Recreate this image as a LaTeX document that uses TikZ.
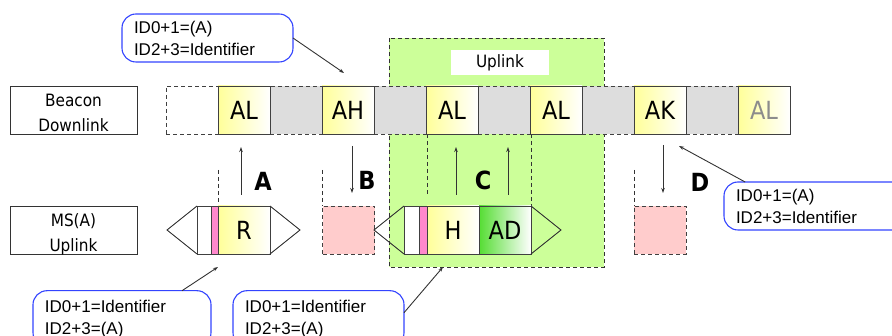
\documentclass[tikz,border=0pt]{standalone}
\usepackage{fontspec}
\setmainfont{Liberation Sans}
\newfontfamily\comic{DejaVu Sans Condensed}
\usetikzlibrary{arrows.meta}

\definecolor{slotyel}{HTML}{FFFF99}
\definecolor{slotgray}{HTML}{DDDDDD}
\definecolor{upgreen}{HTML}{CCFF99}
\definecolor{adgreen}{HTML}{55DD33}
\definecolor{msgpink}{HTML}{FFCCCC}
\definecolor{hdrpink}{HTML}{FF88CC}
\definecolor{calloutblue}{HTML}{3344FF}

\begin{document}
\begin{tikzpicture}[x=1pt, y=-1pt, line width=0.9pt,
  every node/.style={inner sep=0pt, outer sep=0pt},
  dashln/.style={dash pattern=on 4pt off 3pt},
  namebox/.style={draw=black!80, fill=white, minimum width=127pt, minimum height=48pt,
    align=center, text height=46pt, text depth=2pt,
    font=\comic\fontsize{17}{25}\selectfont},
  ybox/.style={draw=black!75, left color=slotyel, right color=white,
    minimum width=52pt, minimum height=48pt, font=\comic\fontsize{25}{25}\selectfont},
  gbox/.style={draw=black!75, dashln, fill=slotgray, minimum width=52pt, minimum height=48pt},
  adbox/.style={ybox, left color=adgreen, right color=white},
  hdr/.style={draw=black!75, fill=#1, minimum height=48pt},
  msgbox/.style={draw=black!75, dashln, fill=msgpink, minimum width=52pt, minimum height=48pt},
  letter/.style={font=\comic\bfseries\fontsize{25}{25}\selectfont},
  callout/.style={draw=calloutblue, line width=1.1pt, fill=white, rounded corners=14pt,
    align=left, inner xsep=12pt, font=\fontsize{17}{22}\selectfont},
  tip/.style={-{Stealth[length=5pt,width=3.5pt]}, black!80},
  wing/.style={draw=black!80},
]
\useasboundingbox (0,0) rectangle (892,336);
\clip (0,0) rectangle (892,336);

% ---- uplink window ----
\draw[dashln, black!80, fill=upgreen] (389,38) rectangle (604,267);
\node[fill=white, minimum width=98pt, minimum height=25pt,
  font=\comic\fontsize{17}{17}\selectfont] (upl) at (500,62.5) {Uplink};
\foreach \x/\ya/\yb in {218/170/206, 322.7/170/206, 427/134/195, 531/134/206, 634.3/170/206}
  \draw[dashln, black!80] (\x,\ya) -- (\x,\yb);

% ---- row labels ----
\node[namebox] (bdl) at (73.5,110) {Beacon\\Downlink};
\node[namebox] (msa) at (73.5,230) {MS(A)\\Uplink};

% ---- beacon downlink slots ----
\node[gbox, fill=white] (s0) at (192,110) {};
\foreach \i in {2,4,6,8,10}
  \node[gbox] (s\i) at ({192+52*\i},110) {};
\foreach \i/\lab in {1/AL, 3/AH, 5/AL, 7/AL, 9/AK}
  \node[ybox] (s\i) at ({192+52*\i},110) {\lab};
\node[ybox, text=black!45] (s11) at (764,110) {AL};

% ---- MS(A) uplink packets ----
\node[hdr=white, minimum width=14pt] (rw) at (204,230) {};
\node[hdr=hdrpink, minimum width=7pt] (rp) at (214.5,230) {};
\node[ybox] (rr) at (244,230) {R};
\draw[wing] (rw.north west) -- ++(-30,24) -- (rw.south west);
\draw[wing] (rr.north east) -- ++(30,24) -- (rr.south east);

\node[msgbox] (mB) at (348.5,230) {};

\node[hdr=white, minimum width=15pt] (hw) at (411.5,230) {};
\node[hdr=hdrpink, minimum width=8pt] (hp) at (423,230) {};
\node[ybox] (hh) at (453,230) {H};
\node[adbox] (had) at (505,230) {AD};
\draw[wing] (hw.north west) -- ++(-30,24) -- (hw.south west);
\draw[wing] (had.north east) -- ++(30,24) -- (had.south east);

\node[msgbox] (mD) at (660,230) {};

% ---- exchanges A to D ----
\foreach \n/\x/\ya/\yb in {a/241/195/147, b/352/146/193, c1/456/195/147,
                           c2/508/195/147, d/663/145/193} {
  \coordinate (\n0) at (\x,\ya);
  \coordinate (\n1) at (\x,\yb);
  \draw[tip] (\n0) -- (\n1);
}
\node[letter] (la) at (263,181) {A};
\node[letter] (lb) at (367,180) {B};
\node[letter] (lc) at (483,180) {C};
\node[letter] (ld) at (700,182) {D};

% ---- identifier callouts ----
\node[callout, text width=147pt, minimum height=48pt]
  (co1) at (207.5,38) {ID0+1=(A)\\ID2+3=Identifier};
\node[callout, text width=166pt, minimum height=48pt]
  (co2) at (819,206) {ID0+1=(A)\\ID2+3=Identifier};
\node[callout, text width=154pt, minimum height=56pt]
  (co3) at (122,318.7) {ID0+1=Identifier\\ID2+3=(A)};
\node[callout, text width=147pt, minimum height=56pt]
  (co4) at (318.5,318.7) {ID0+1=Identifier\\ID2+3=(A)};

\coordinate (t1) at (344,73);
\coordinate (t2) at (679,146);
\coordinate (t3) at (218,267);
\coordinate (t4) at (443,267);
\draw[tip] (co1.east) -- (t1);
\draw[tip] (co2.162) -- (t2);
\draw[tip] (co3.25) -- (t3);
\draw[tip] (co4.4) -- (t4);
\end{tikzpicture}
\end{document}
